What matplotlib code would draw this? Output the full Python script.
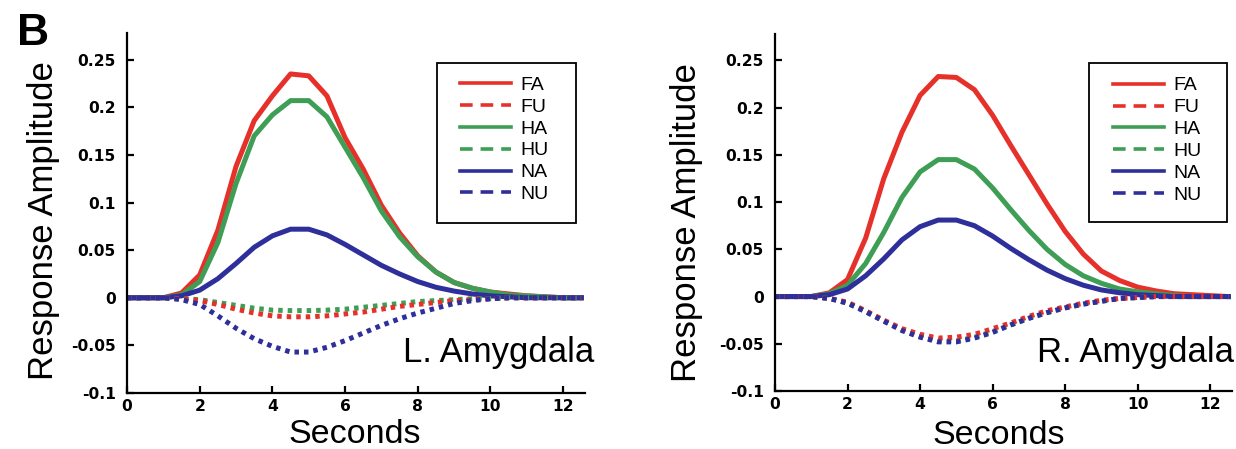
import matplotlib.pyplot as plt
from matplotlib.lines import Line2D
from matplotlib.patches import Rectangle

# time axis (seconds), sampled every 0.5 s
t = [0, 0.5, 1, 1.5, 2, 2.5, 3, 3.5, 4, 4.5, 5, 5.5, 6, 6.5, 7, 7.5, 8,
     8.5, 9, 9.5, 10, 10.5, 11, 11.5, 12, 12.5]

# left amygdala
l_fa = [0, 0, 0, 0.005, 0.024, 0.071, 0.138, 0.186, 0.212, 0.235, 0.233, 0.212, 0.168,
        0.135, 0.097, 0.068, 0.044, 0.027, 0.016, 0.010, 0.006, 0.004, 0.002, 0.001, 0, 0]
l_ha = [0, 0, 0, 0.003, 0.017, 0.058, 0.120, 0.170, 0.192, 0.207, 0.207, 0.190, 0.158,
        0.126, 0.091, 0.064, 0.043, 0.027, 0.016, 0.010, 0.006, 0.003, 0.002, 0.001, 0, 0]
l_na = [0, 0, 0, 0.002, 0.008, 0.020, 0.036, 0.053, 0.065, 0.072, 0.072, 0.066, 0.056,
        0.045, 0.034, 0.025, 0.017, 0.011, 0.007, 0.004, 0.002, 0.001, 0, 0, 0, 0]
l_fu = [0, 0, 0, -0.001, -0.003, -0.007, -0.012, -0.016, -0.019, -0.020, -0.020, -0.019,
        -0.017, -0.015, -0.012, -0.009, -0.007, -0.005, -0.003, -0.002, -0.001, 0, 0, 0, 0, 0]
l_hu = [0, 0, 0, -0.001, -0.002, -0.005, -0.008, -0.011, -0.013, -0.0135, -0.0135, -0.013,
        -0.012, -0.010, -0.008, -0.006, -0.004, -0.003, -0.002, -0.001, -0.001, 0, 0, 0, 0, 0]
l_nu = [0, 0, 0, -0.002, -0.007, -0.019, -0.032, -0.043, -0.051, -0.057, -0.057, -0.052,
        -0.045, -0.037, -0.029, -0.022, -0.016, -0.011, -0.006, -0.003, -0.001, 0, 0, 0, 0, 0]

# right amygdala
r_fa = [0, 0, 0, 0.004, 0.018, 0.062, 0.125, 0.174, 0.213, 0.233, 0.232, 0.219, 0.192,
        0.160, 0.129, 0.098, 0.069, 0.045, 0.027, 0.017, 0.010, 0.006, 0.003, 0.002, 0.001, 0]
r_ha = [0, 0, 0, 0.003, 0.012, 0.035, 0.068, 0.105, 0.132, 0.145, 0.145, 0.135, 0.115,
        0.092, 0.070, 0.050, 0.034, 0.022, 0.014, 0.008, 0.005, 0.003, 0.001, 0, 0, 0]
r_na = [0, 0, 0, 0.002, 0.008, 0.022, 0.040, 0.060, 0.074, 0.081, 0.081, 0.075, 0.064,
        0.051, 0.039, 0.028, 0.019, 0.012, 0.007, 0.004, 0.002, 0.001, 0, 0, 0, 0]
r_fu = [0, 0, 0, -0.002, -0.006, -0.015, -0.025, -0.034, -0.040, -0.044, -0.043, -0.040,
        -0.034, -0.028, -0.021, -0.015, -0.011, -0.007, -0.004, -0.002, -0.001, 0, 0, 0, 0, 0]
r_hu = [0, 0, 0, -0.002, -0.007, -0.016, -0.026, -0.035, -0.042, -0.047, -0.047, -0.043,
        -0.037, -0.030, -0.023, -0.017, -0.012, -0.008, -0.005, -0.002, -0.001, 0, 0, 0, 0, 0]
r_nu = [0, 0, 0, -0.002, -0.007, -0.016, -0.026, -0.036, -0.043, -0.048, -0.048, -0.044,
        -0.038, -0.030, -0.023, -0.017, -0.012, -0.008, -0.005, -0.002, -0.001, 0, 0, 0, 0, 0]

labels = ["FA", "FU", "HA", "HU", "NA", "NU"]
yticks = [-0.1, -0.05, 0, 0.05, 0.1, 0.15, 0.2, 0.25]
yticklabels = ["-0.1", "-0.05", "0", "0.05", "0.1", "0.15", "0.2", "0.25"]
xticks = [0, 2, 4, 6, 8, 10, 12]

red = "#e6312b"
green = "#3f9e55"
blue = "#2e2f9a"
dots = (0, (0.9, 1.0))

W, H = 1236, 449
fig = plt.figure(figsize=(W / 100, H / 100), dpi=100)


def panel(rect, fa, fu, ha, hu, na, nu, name, namepos, ylab, xlab, legbox, legpos):
    ax = fig.add_axes(rect)
    ax.plot(t, fa, color=red, lw=3.6)
    ax.plot(t, ha, color=green, lw=3.6)
    ax.plot(t, na, color=blue, lw=3.6)
    ax.plot(t, hu, color=green, lw=3.6, linestyle=dots)
    ax.plot(t, fu, color=red, lw=3.6, linestyle=dots)
    ax.plot(t, nu, color=blue, lw=3.6, linestyle=dots)

    ax.set_xlim(0, 12.6)
    ax.set_ylim(-0.1, 0.278)
    ax.spines["top"].set_visible(False)
    ax.spines["right"].set_visible(False)
    ax.spines["left"].set_linewidth(1.6)
    ax.spines["bottom"].set_linewidth(1.6)
    ax.set_yticks(yticks)
    ax.set_yticklabels(yticklabels)
    ax.set_xticks(xticks)
    ax.tick_params(direction="in", length=5, width=1.6)
    ax.tick_params(axis="y", pad=8)
    ax.tick_params(axis="x", pad=4)
    for lab in ax.get_xticklabels() + ax.get_yticklabels():
        lab.set_fontfamily("DejaVu Sans")
        lab.set_fontweight("bold")
        lab.set_fontsize(11.2)

    ax.set_ylabel("Response Amplitude", fontsize=25, family="Liberation Sans")
    ax.yaxis.set_label_coords(*ylab)
    ax.set_xlabel("Seconds", fontsize=24.5, family="Liberation Sans", va="top")
    ax.xaxis.set_label_coords(*xlab)

    ax.text(namepos[0], namepos[1], name, fontsize=25, family="Liberation Sans",
            ha="right", va="baseline", clip_on=False)

    # legend
    handles = [
        Line2D([], [], color=red, lw=2.6),
        Line2D([], [], color=red, lw=2.6, linestyle=(0, (3.5, 2.2))),
        Line2D([], [], color=green, lw=2.6),
        Line2D([], [], color=green, lw=2.6, linestyle=(0, (3.5, 2.2))),
        Line2D([], [], color=blue, lw=2.6),
        Line2D([], [], color=blue, lw=2.6, linestyle=(0, (3.5, 2.2))),
    ]
    ax.legend(handles, labels, loc="upper left", bbox_to_anchor=legpos,
              frameon=False, borderpad=0, borderaxespad=0, handlelength=2.6,
              handletextpad=0.5, labelspacing=0.22,
              prop={"family": "Liberation Sans", "size": 14})
    x0, x1, y0, y1 = legbox
    ax.add_patch(Rectangle((x0, y0), x1 - x0, y1 - y0, transform=ax.transAxes,
                           fill=False, edgecolor="black", lw=1.3, clip_on=False))
    return ax


def fr(px0, px1, py_top, py_bot):
    return [px0 / W, 1 - py_bot / H, (px1 - px0) / W, (py_bot - py_top) / H]


panel(fr(127, 585, 33, 393), l_fa, l_fu, l_ha, l_hu, l_na, l_nu,
      "L. Amygdala", (12.86, -0.067), (-0.146, 0.478), (0.497, -0.072),
      (0.677, 0.980, 0.472, 0.917), (0.727, 0.88))
panel(fr(775, 1232, 34, 391), r_fa, r_fu, r_ha, r_hu, r_na, r_nu,
      "R. Amygdala", (12.66, -0.069), (-0.158, 0.472), (0.490, -0.080),
      (0.687, 0.989, 0.472, 0.919), (0.740, 0.88))

fig.text(17 / W, 1 - 45 / H, "B", fontsize=32, fontweight="bold",
         family="Liberation Sans", ha="left", va="baseline")

fig.savefig("out.png", dpi=100)
